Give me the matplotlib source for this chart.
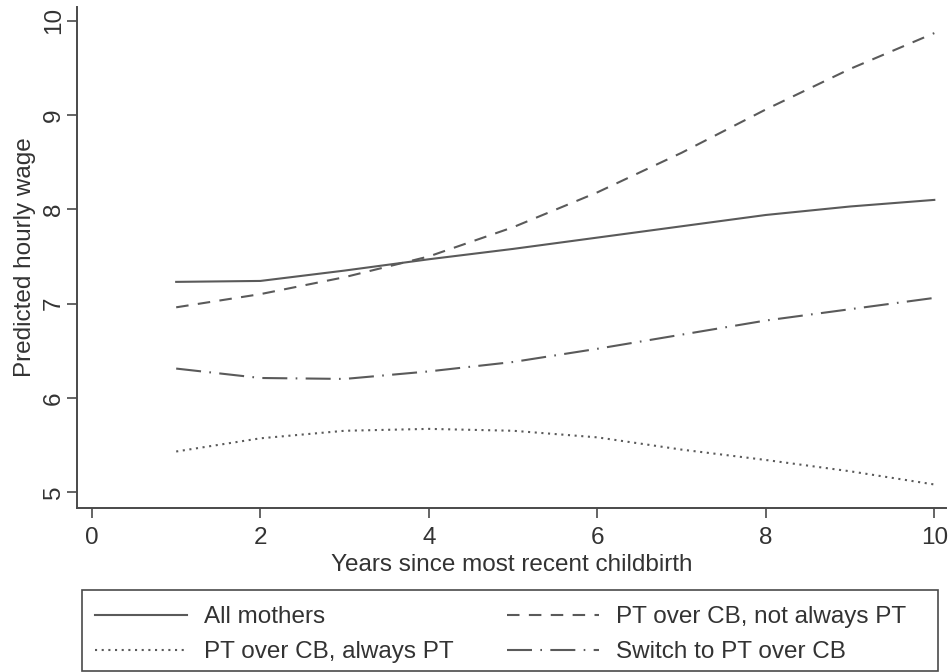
import matplotlib

matplotlib.use("Agg")

import matplotlib.pyplot as plt
from matplotlib.patches import Rectangle

plt.rcParams["font.family"] = ["Liberation Sans", "DejaVu Sans"]

YEARS = [1, 2, 3, 4, 5, 6, 7, 8, 9, 10]
ALL_MOTHERS = [7.23, 7.24, 7.35, 7.47, 7.58, 7.70, 7.82, 7.94, 8.03, 8.10]
PT_ALWAYS = [5.43, 5.57, 5.65, 5.67, 5.65, 5.58, 5.45, 5.34, 5.22, 5.08]
PT_NOT_ALWAYS = [6.96, 7.10, 7.28, 7.50, 7.81, 8.18, 8.60, 9.06, 9.49, 9.87]
SWITCH_PT = [6.31, 6.21, 6.20, 6.28, 6.38, 6.52, 6.67, 6.82, 6.94, 7.06]

X_TICKS = [0, 2, 4, 6, 8, 10]
Y_TICKS = [5, 6, 7, 8, 9, 10]

LINE_COLOR = "#5a5a5a"
AXIS_COLOR = "#4a4a4a"
TEXT_COLOR = "#333333"
FS = 17.5

W, H = 948, 672
fig = plt.figure(figsize=(W / 100, H / 100), dpi=100)
ax = fig.add_axes([0.081, 0.244, 0.917, 0.746])

l1, = ax.plot(YEARS, ALL_MOTHERS, color=LINE_COLOR, lw=1.5, linestyle="-", label="All mothers")
l2, = ax.plot(YEARS, PT_ALWAYS, color=LINE_COLOR, lw=1.5, linestyle=(0, (1, 2.2)),
              label="PT over CB, always PT")
l3, = ax.plot(YEARS, PT_NOT_ALWAYS, color=LINE_COLOR, lw=1.5, linestyle=(0, (6, 4.5)),
              label="PT over CB, not always PT")
l4, = ax.plot(YEARS, SWITCH_PT, color=LINE_COLOR, lw=1.5, linestyle=(0, (12, 4, 0.8, 4)),
              label="Switch to PT over CB")

ax.set_xlim(-0.18, 10.14)
ax.set_ylim(4.83, 10.15)
ax.set_xticks(X_TICKS)
ax.set_yticks(Y_TICKS)
ax.tick_params(axis="both", direction="out", length=7.5, width=1.2, color=AXIS_COLOR,
               labelsize=FS, labelcolor=TEXT_COLOR)
ax.tick_params(axis="x", pad=6)
ax.tick_params(axis="y", labelrotation=90, pad=1)
for lab in ax.get_yticklabels():
    lab.set_va("center")

for side in ["top", "right"]:
    ax.spines[side].set_visible(False)
for side in ["left", "bottom"]:
    ax.spines[side].set_color(AXIS_COLOR)
    ax.spines[side].set_linewidth(1.4)

ax.set_xlabel("Years since most recent childbirth", fontsize=FS, color=TEXT_COLOR, labelpad=4)
ax.set_ylabel("Predicted hourly wage", fontsize=FS, color=TEXT_COLOR, labelpad=5)

# legend frame drawn by hand, two single-column legends inside it
fig.patches.append(Rectangle((82 / W, 1 - 671 / H), (938 - 82) / W, 81 / H,
                             transform=fig.transFigure, fill=False,
                             edgecolor=AXIS_COLOR, linewidth=1.2))

legend_kw = dict(loc="upper left", frameon=False, fontsize=FS, handlelength=3.8,
                 handletextpad=0.7, labelspacing=0.55, borderpad=0, borderaxespad=0)
leg1 = fig.legend([l1, l2], ["All mothers", "PT over CB, always PT"],
                  bbox_to_anchor=(95 / W, 1 - 606 / H), **legend_kw)
leg2 = fig.legend([l3, l4], ["PT over CB, not always PT", "Switch to PT over CB"],
                  bbox_to_anchor=(507 / W, 1 - 606 / H), **legend_kw)
for leg in (leg1, leg2):
    for t in leg.get_texts():
        t.set_color(TEXT_COLOR)

fig.savefig("out.png", dpi=100)
